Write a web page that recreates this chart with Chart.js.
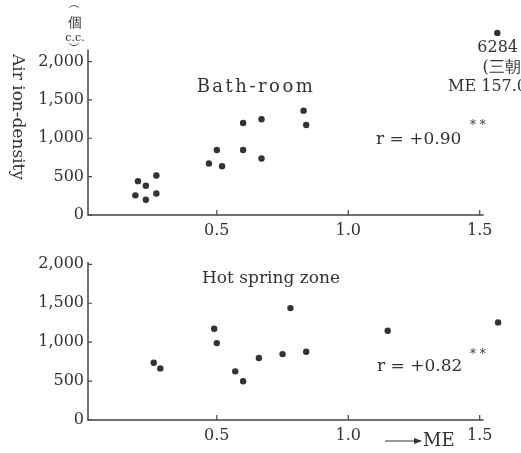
<!DOCTYPE html>
<html>
<head>
<meta charset="utf-8">
<script src="https://cdn.jsdelivr.net/npm/chart.js@4"></script>
<style>
body { margin: 0; background: #fff; }
#wrap { position: relative; width: 521px; height: 453px; overflow: hidden; }
canvas { position: absolute; left: 0; }
</style>
</head>
<body>
<div id="wrap">
<canvas id="bathChart" width="521" height="240" style="top:0"></canvas>
<canvas id="springChart" width="521" height="213" style="top:240px"></canvas>
</div>
<script>
"use strict"

// data
const xTicks = [0.5, 1.0, 1.5];
const yTicks = [0, 500, 1000, 1500, 2000];

const bathME = [0.19, 0.20, 0.23, 0.23, 0.27, 0.27, 0.47, 0.50, 0.52, 0.60, 0.60, 0.67, 0.67, 0.83, 0.84];
const bathIon = [256, 441, 381, 199, 515, 281, 671, 848, 636, 1199, 848, 1247, 736, 1360, 1173];

// off-scale point (6284, ME 157.0), drawn above the axis top
const bathOutlierME = [1.567];
const bathOutlierIon = [2373];

const springME = [0.26, 0.285, 0.49, 0.50, 0.57, 0.60, 0.66, 0.75, 0.78, 0.84, 1.15, 1.57];
const springIon = [736, 663, 1172, 988, 625, 497, 796, 847, 1438, 877, 1146, 1254];

const ink = "#333";
const serif = "'DejaVu Serif', serif";

// the axis lines stop here, the plot area goes a bit further for the stray points
const xMin = 0.01, xAxisEnd = 1.515, xMax = 1.6;

function toPoints(xs, ys) {
    return xs.map((x, i) => ({ x: x, y: ys[i] }));
}

// axis lines and short tick marks drawn inside the axes
function axesPlugin(yAxisEnd) {
    return {
        id: "axes",
        afterDatasetsDraw(chart) {
            const ctx = chart.ctx;
            const xs = chart.scales.x;
            const ys = chart.scales.y;
            const x0 = xs.getPixelForValue(xMin);
            const y0 = ys.getPixelForValue(0);
            ctx.save();
            ctx.strokeStyle = "#444";
            ctx.lineWidth = 1.5;
            ctx.beginPath();
            ctx.moveTo(x0, ys.getPixelForValue(yAxisEnd));
            ctx.lineTo(x0, y0);
            ctx.lineTo(xs.getPixelForValue(xAxisEnd), y0);
            ctx.stroke();
            ctx.lineWidth = 1.2;
            ctx.beginPath();
            xTicks.forEach(v => {
                const px = xs.getPixelForValue(v);
                ctx.moveTo(px, y0);
                ctx.lineTo(px, y0 - 5);
            });
            yTicks.forEach(v => {
                const py = ys.getPixelForValue(v);
                ctx.moveTo(x0, py);
                ctx.lineTo(x0 + 4, py);
            });
            ctx.stroke();
            ctx.restore();
        }
    };
}

// free texts on a chart (and the little arrow before "ME")
function textPlugin(items) {
    return {
        id: "texts",
        afterDraw(chart) {
            const ctx = chart.ctx;
            ctx.save();
            ctx.fillStyle = ink;
            ctx.strokeStyle = ink;
            ctx.textBaseline = "middle";
            items.forEach(it => {
                if (it.arrow) {
                    ctx.lineWidth = 1;
                    ctx.beginPath();
                    ctx.moveTo(it.x, it.y);
                    ctx.lineTo(it.x + it.len, it.y);
                    ctx.stroke();
                    ctx.beginPath();
                    ctx.moveTo(it.x + it.len + 1, it.y);
                    ctx.lineTo(it.x + it.len - 7, it.y - 3);
                    ctx.lineTo(it.x + it.len - 7, it.y + 3);
                    ctx.closePath();
                    ctx.fill();
                    return;
                }
                ctx.font = (it.size || 17) + "px " + serif;
                ctx.textAlign = it.align || "left";
                ctx.letterSpacing = (it.spacing || 0) + "px";
                if (it.rotate) {
                    ctx.save();
                    ctx.translate(it.x, it.y);
                    ctx.rotate(it.rotate);
                    ctx.fillText(it.text, 0, 0);
                    ctx.restore();
                } else {
                    ctx.fillText(it.text, it.x, it.y);
                }
            });
            ctx.restore();
        }
    };
}

function makeOptions(yMax, padTop, xHeight) {
    return {
        responsive: false,
        animation: false,
        layout: { padding: { top: padTop, right: 15, left: 0, bottom: 0 } },
        plugins: { legend: { display: false }, tooltip: { enabled: false } },
        scales: {
            x: {
                type: "linear",
                min: xMin,
                max: xMax,
                bounds: "data",
                grid: { display: false, drawTicks: false },
                border: { display: false },
                afterBuildTicks: s => { s.ticks = xTicks.map(v => ({ value: v })); },
                afterFit: s => { s.height = xHeight; },
                ticks: {
                    color: ink,
                    padding: 6,
                    maxRotation: 0,
                    font: { family: serif, size: 16 },
                    callback: v => v.toFixed(1)
                }
            },
            y: {
                type: "linear",
                min: 0,
                max: yMax,
                bounds: "data",
                grid: { display: false, drawTicks: false },
                border: { display: false },
                afterBuildTicks: s => { s.ticks = yTicks.map(v => ({ value: v })); },
                afterFit: s => { s.width = 88; },
                ticks: {
                    color: ink,
                    padding: 4,
                    font: { family: serif, size: 16 },
                    callback: v => v.toLocaleString("en-US")
                }
            }
        }
    };
}

const dotStyle = {
    pointRadius: 3.2,
    pointBackgroundColor: ink,
    pointBorderWidth: 0
};

new Chart(document.getElementById("bathChart"), {
    type: "scatter",
    data: {
        datasets: [
            Object.assign({ data: toPoints(bathME, bathIon) }, dotStyle),
            Object.assign({ data: toPoints(bathOutlierME, bathOutlierIon) }, dotStyle)
        ]
    },
    options: makeOptions(2420, 29.3, 25),
    plugins: [axesPlugin(2156), textPlugin([
        { text: "Bath-room", x: 256, y: 87, size: 18, align: "center", spacing: 2.5 },
        { text: "r = +0.90", x: 376, y: 140, size: 17 },
        { text: "* *", x: 470, y: 126, size: 12 },
        { text: "6284", x: 518, y: 48, size: 16, align: "right" },
        { text: "(三朝)", x: 527, y: 68, size: 16, align: "right" },
        { text: "ME 157.0", x: 527, y: 87, size: 16, align: "right" },
        { text: "Air ion-density", x: 17, y: 117, size: 17, align: "center", rotate: Math.PI / 2 },
        { text: "︵", x: 74, y: 6, size: 13, align: "center" },
        { text: "個", x: 75, y: 23, size: 14, align: "center" },
        { text: "c.c.", x: 75, y: 38, size: 11, align: "center" },
        { text: "︶", x: 74, y: 47, size: 13, align: "center" }
    ])]
});

new Chart(document.getElementById("springChart"), {
    type: "scatter",
    data: {
        datasets: [
            Object.assign({ data: toPoints(springME, springIon) }, dotStyle)
        ]
    },
    options: makeOptions(2030, 22, 33),
    plugins: [axesPlugin(2030), textPlugin([
        { text: "Hot spring zone", x: 271, y: 39, size: 17, align: "center" },
        { text: "r = +0.82", x: 377, y: 127, size: 17 },
        { text: "* *", x: 470, y: 115, size: 12 },
        { arrow: true, x: 385, y: 201, len: 36 },
        { text: "ME", x: 423, y: 201, size: 18 }
    ])]
});
</script>
</body>
</html>
